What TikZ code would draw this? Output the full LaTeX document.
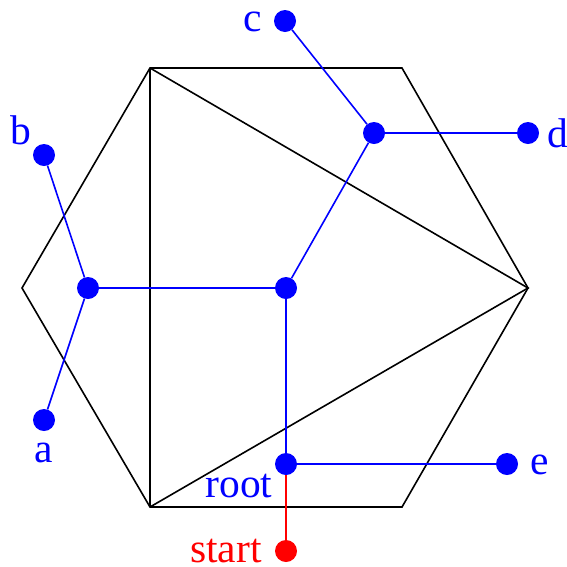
\documentclass[tikz,border=0pt]{standalone}
\usepackage{fontspec}
\setmainfont{Liberation Serif}
\begin{document}
\begin{tikzpicture}[x=1pt,y=-1pt,
  dot/.style={circle,fill=blue,inner sep=0pt,minimum size=22pt},
  rdot/.style={circle,fill=red,inner sep=0pt,minimum size=22pt},
  lbl/.style={inner sep=0pt,text=blue,font=\fontsize{41.5}{44}\selectfont},
  rlbl/.style={inner sep=0pt,text=red,font=\fontsize{41.5}{44}\selectfont},
  hexline/.style={black,line width=1.6pt,line join=miter},
  tree/.style={blue,line width=1.6pt},
  rtree/.style={red,line width=1.6pt}]
\useasboundingbox (0,0) rectangle (567,566);
% hexagon
\coordinate (h1) at (150,68);
\coordinate (h2) at (402,68);
\coordinate (h3) at (528,288);
\coordinate (h4) at (402,507);
\coordinate (h5) at (150,507);
\coordinate (h6) at (22,288);
\draw[hexline] (h1) -- (h2) -- (h3) -- (h4) -- (h5) -- (h6) -- cycle;
\draw[hexline] (h1) -- (h5);
\draw[hexline] (h1) -- (h3) -- (h5);
% tree nodes
\node[dot] (c) at (285,21) {};
\node[dot] (d) at (528,133) {};
\node[dot] (b) at (44,155) {};
\node[dot] (a) at (44,420) {};
\node[dot] (e) at (507,464) {};
\node[dot] (l) at (88,288) {};
\node[dot] (m) at (286,288) {};
\node[dot] (u) at (374,133) {};
\node[dot] (root) at (286,464) {};
\node[rdot] (start) at (286,551) {};
% edges
\draw[rtree] (root) -- (start);
\draw[tree] (c) -- (u);
\draw[tree] (u) -- (d);
\draw[tree] (u) -- (m);
\draw[tree] (m) -- (l);
\draw[tree] (l) -- (b);
\draw[tree] (l) -- (a);
\draw[tree] (m) -- (root);
\draw[tree] (root) -- (e);
% labels
\node[lbl] (lc) at (253,22) {c};
\node[lbl] (ld) at (558,133) {d};
\node[lbl] (lb) at (21,130) {b};
\node[lbl] (la) at (44,453) {a};
\node[lbl] (le) at (540,465) {e};
\node[lbl] (lroot) at (239,486) {root};
\node[rlbl] (lstart) at (226,551) {start};
\end{tikzpicture}
\end{document}
